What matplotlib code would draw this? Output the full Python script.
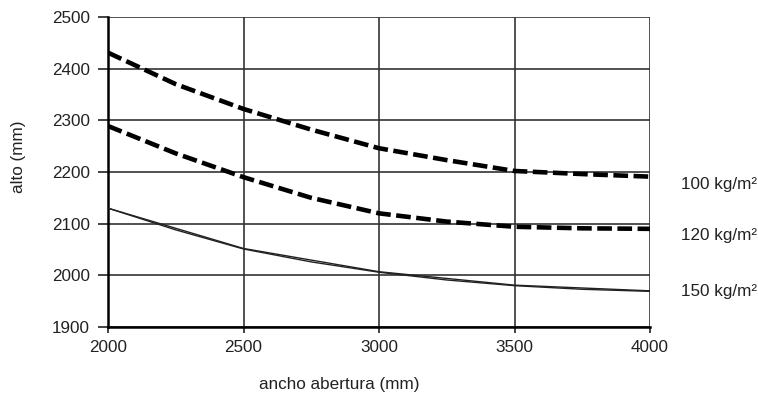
import matplotlib
matplotlib.use("Agg")
import matplotlib.pyplot as plt

# Data
x_main = [2000, 2500, 3000, 3500, 4000]
x_fine = [2000, 2250, 2500, 2750, 3000, 3250, 3500, 3750, 4000]
y100 = [2431, 2370, 2322, 2282, 2246, 2223, 2202, 2196, 2191]
y120 = [2289, 2236, 2190, 2150, 2120, 2104, 2094, 2091, 2090]
y150_a = [2130, 2052, 2007, 1981, 1970]
y150_b = [2130, 2088, 2051, 2026, 2006, 1991, 1980, 1973, 1969]
labels = ["100 kg/m²", "120 kg/m²", "150 kg/m²"]
label_y = [2168, 2069, 1960]
xticks = [2000, 2500, 3000, 3500, 4000]
yticks = [1900, 2000, 2100, 2200, 2300, 2400, 2500]

plt.rcParams['font.family'] = ['Liberation Sans', 'DejaVu Sans']

fig = plt.figure(figsize=(7.58, 4.03), dpi=100)
ax = fig.add_axes([108/758, 1 - 327/403, 542/758, 310/403])

ax.set_xlim(2000, 4000)
ax.set_ylim(1900, 2500)
ax.set_xticks(xticks)
ax.set_yticks(yticks)
ax.grid(True, color='#333333', linewidth=1.2)
ax.set_axisbelow(True)

dash = dict(color='black', linewidth=3.3, dashes=(3.2, 1.2), dash_capstyle='butt', solid_capstyle='butt')
ax.plot(x_fine, y100, **dash, zorder=3)
ax.plot(x_fine, y120, **dash, zorder=3)
ax.plot(x_main, y150_a, color='#222222', linewidth=1.0, zorder=3)
ax.plot(x_fine, y150_b, color='#222222', linewidth=1.0, zorder=3)

for s in ['top', 'right']:
    ax.spines[s].set_visible(False)
for s in ['left', 'bottom']:
    ax.spines[s].set_linewidth(1.8)
    ax.spines[s].set_color('black')
ax.tick_params(axis='y', direction='out', length=7, width=1.2, labelsize=12.3, pad=6, colors='#222222')
ax.tick_params(axis='x', direction='out', length=4, width=1.2, labelsize=12.3, pad=5, colors='#222222')

for lab, ly in zip(labels, label_y):
    ax.text(4114, ly, lab, fontsize=12.3, color='#222222', va='baseline', ha='left', clip_on=False)

fig.text(339/758, 1 - 384/403, "ancho abertura (mm)", fontsize=12.3, color='#222222', ha='center', va='center')
fig.text(18/758, 1 - 157/403, "alto (mm)", fontsize=12.3, color='#222222', ha='center', va='center', rotation=90)

fig.savefig("out.png", dpi=100)
